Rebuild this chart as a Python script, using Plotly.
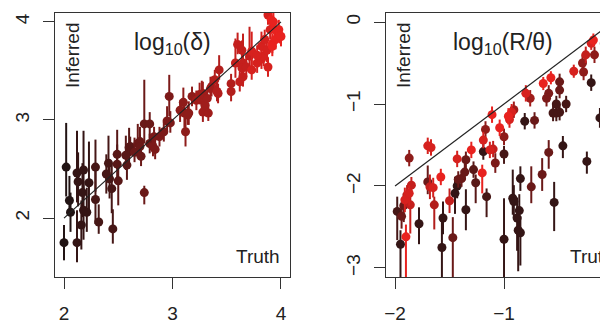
import plotly.graph_objects as go

# ---------------- Left panel: log10(delta) ----------------
left_truth = [2.02, 2.05, 2.06, 2.00, 2.12, 2.13, 2.18, 2.17, 2.12, 2.16,
              2.18, 2.21, 2.23, 2.29, 2.29, 2.32, 2.41, 2.39, 2.42, 2.44,
              2.45, 2.49, 2.49, 2.50, 2.57, 2.58, 2.60, 2.65, 2.68, 2.70,
              2.71, 2.74, 2.74, 2.79, 2.82, 2.84, 2.88, 2.92, 2.95, 2.97,
              2.98, 3.07, 3.10, 3.11, 3.15, 3.12, 3.18, 3.27, 3.28, 3.28,
              3.33, 3.35, 3.42, 3.43, 3.41, 3.39, 3.36, 3.30, 3.32, 3.54,
              3.54, 3.58, 3.65, 3.64, 3.65, 3.71, 3.73, 3.73, 3.78, 3.82,
              3.84, 3.82, 3.87, 3.88, 3.85, 3.90, 3.92, 3.95, 4.00, 3.94,
              3.91, 3.88, 3.98, 3.99, 3.25, 3.22, 3.14, 2.61, 2.79, 2.83,
              3.68, 3.62, 3.60, 3.64, 3.78, 3.92, 3.93, 2.70]
left_inferred = [2.52, 2.18, 2.06, 1.75, 2.46, 2.37, 2.49, 2.26, 1.75, 1.93,
                 2.08, 2.06, 2.36, 2.52, 2.19, 1.96, 2.56, 2.45, 2.40, 2.30,
                 1.89, 2.65, 2.55, 2.38, 2.64, 2.54, 2.72, 2.67, 2.76, 2.78,
                 2.63, 2.26, 2.96, 2.96, 2.73, 2.70, 2.83, 2.88, 2.99, 3.24,
                 2.97, 3.10, 3.18, 3.07, 3.07, 2.88, 3.24, 3.20, 3.27, 3.08,
                 3.07, 3.32, 3.27, 3.51, 3.29, 3.41, 3.34, 3.15, 3.22, 3.37,
                 3.29, 3.58, 3.58, 3.53, 3.44, 3.65, 3.70, 3.51, 3.58, 3.62,
                 3.65, 3.75, 3.71, 3.54, 3.82, 3.92, 3.78, 3.82, 3.85, 3.92,
                 4.02, 4.07, 3.92, 3.86, 3.26, 3.20, 3.05, 2.73, 2.76, 2.83,
                 3.54, 3.39, 3.77, 3.71, 3.66, 3.75, 4.00, 2.73]
left_err_up = [0.45, 0.25, 0.20, 0.18, 0.43, 0.30, 0.40, 0.30, 0.33, 0.25,
               0.30, 0.25, 0.42, 0.28, 0.30, 0.18, 0.28, 0.20, 0.20, 0.25,
               0.20, 0.25, 0.20, 0.15, 0.20, 0.15, 0.20, 0.15, 0.20, 0.15,
               0.12, 0.07, 0.45, 0.12, 0.10, 0.10, 0.10, 0.10, 0.15, 0.22,
               0.12, 0.10, 0.15, 0.15, 0.12, 0.15, 0.10, 0.20, 0.12, 0.10,
               0.10, 0.12, 0.10, 0.15, 0.10, 0.10, 0.10, 0.10, 0.10, 0.10,
               0.10, 0.25, 0.30, 0.10, 0.10, 0.30, 0.20, 0.10, 0.10, 0.12,
               0.12, 0.15, 0.12, 0.10, 0.10, 0.10, 0.10, 0.10, 0.10, 0.10,
               0.10, 0.10, 0.10, 0.08, 0.12, 0.10, 0.10, 0.10, 0.10, 0.10,
               0.10, 0.10, 0.12, 0.10, 0.10, 0.10, 0.10, 0.12]
left_err_down = [0.30, 0.15, 0.20, 0.18, 0.30, 0.25, 0.30, 0.25, 0.20, 0.25,
                 0.30, 0.20, 0.30, 0.25, 0.25, 0.12, 0.20, 0.20, 0.20, 0.25,
                 0.15, 0.15, 0.15, 0.25, 0.15, 0.15, 0.15, 0.10, 0.15, 0.15,
                 0.10, 0.12, 0.20, 0.15, 0.10, 0.10, 0.10, 0.10, 0.10, 0.20,
                 0.10, 0.12, 0.12, 0.15, 0.12, 0.15, 0.10, 0.15, 0.10, 0.10,
                 0.08, 0.10, 0.10, 0.10, 0.10, 0.10, 0.10, 0.10, 0.10, 0.10,
                 0.10, 0.15, 0.15, 0.10, 0.10, 0.15, 0.15, 0.10, 0.10, 0.10,
                 0.10, 0.10, 0.12, 0.10, 0.10, 0.10, 0.10, 0.10, 0.10, 0.10,
                 0.10, 0.10, 0.10, 0.08, 0.10, 0.10, 0.10, 0.10, 0.10, 0.10,
                 0.10, 0.10, 0.10, 0.10, 0.10, 0.10, 0.10, 0.10]

# ---------------- Right panel: log10(R/theta) ----------------
right_truth = [-1.98, -1.95, -1.94, -1.92, -1.91, -1.90, -1.89, -1.87, -1.86, -1.85,
               -1.87, -1.78, -1.70, -1.67, -1.70, -1.68, -1.65, -1.64, -1.58, -1.56,
               -1.57, -1.47, -1.50, -1.45, -1.43, -1.43, -1.42, -1.39, -1.36, -1.35,
               -1.30, -1.35, -1.28, -1.26, -1.20, -1.19, -1.16, -1.19, -1.11, -1.17,
               -1.04, -1.00, -0.96, -0.93, -0.95, -0.91, -0.81, -0.72, -0.80, -0.76,
               -0.64, -0.57, -0.59, -0.61, -0.49, -0.49, -0.52, -0.52, -0.49, -0.43,
               -0.55, -0.36, -0.27, -0.28, -0.25, -0.17, -0.20, -0.18, -0.07, -0.06,
               -0.20, -0.12, -0.08, -1.13, -1.10, -1.08, -1.00, -1.00, -0.92, -0.91,
               -0.85, -0.88, -0.86, -0.87, -0.85, -0.75, -0.65, -0.59, -0.54, -0.46,
               -0.24, -0.06]
right_inferred = [-2.31, -2.71, -2.37, -2.24, -2.17, -2.62, -2.11, -2.09, -2.23, -1.99,
                  -1.66, -2.46, -1.51, -1.53, -1.95, -2.01, -2.02, -2.23, -1.89, -2.39,
                  -2.75, -2.63, -2.18, -2.09, -2.00, -1.67, -1.92, -1.91, -1.83, -1.68,
                  -1.56, -2.29, -1.80, -1.96, -1.84, -1.58, -2.13, -1.44, -1.13, -1.31,
                  -1.29, -1.40, -1.15, -1.10, -1.19, -1.07, -1.21, -1.20, -0.87, -0.93,
                  -0.75, -0.68, -0.87, -0.93, -0.73, -0.83, -1.00, -1.11, -1.10, -1.00,
                  -1.11, -0.60, -0.61, -0.50, -0.40, -0.40, -0.26, -0.22, -0.52, -0.06,
                  -0.74, -1.17, -0.26, -1.56, -1.55, -1.72, -1.61, -2.65, -2.15, -2.19,
                  -1.91, -2.39, -2.30, -2.54, -2.57, -2.01, -1.86, -1.59, -2.20, -1.51,
                  -1.70, -1.46]
right_err_up = [0.18, 0.17, 0.15, 0.15, 0.15, 0.15, 0.12, 0.10, 0.15, 0.10,
                0.10, 0.20, 0.10, 0.10, 0.20, 0.15, 0.12, 0.10, 0.10, 0.20,
                0.40, 0.25, 0.15, 0.20, 0.10, 0.10, 0.10, 0.10, 0.10, 0.10,
                0.10, 0.25, 0.10, 0.10, 0.10, 0.10, 0.10, 0.10, 0.10, 0.10,
                0.10, 0.10, 0.10, 0.10, 0.10, 0.10, 0.10, 0.10, 0.10, 0.10,
                0.08, 0.08, 0.10, 0.10, 0.10, 0.10, 0.10, 0.10, 0.10, 0.10,
                0.10, 0.08, 0.10, 0.10, 0.10, 0.10, 0.08, 0.08, 0.10, 0.08,
                0.10, 0.12, 0.10, 0.10, 0.10, 0.12, 0.10, 0.50, 0.35, 0.20,
                0.15, 0.25, 0.20, 0.20, 0.20, 0.25, 0.20, 0.15, 0.25, 0.12,
                0.12, 0.10]
right_err_down = [0.35, 0.50, 0.15, 0.20, 0.15, 0.60, 0.12, 0.15, 0.35, 0.10,
                  0.10, 0.25, 0.10, 0.10, 0.15, 0.15, 0.12, 0.30, 0.10, 0.20,
                  0.50, 0.60, 0.15, 0.25, 0.15, 0.10, 0.10, 0.10, 0.10, 0.10,
                  0.10, 0.25, 0.10, 0.25, 0.25, 0.10, 0.25, 0.10, 0.10, 0.10,
                  0.10, 0.10, 0.10, 0.10, 0.10, 0.10, 0.10, 0.10, 0.10, 0.10,
                  0.08, 0.08, 0.10, 0.10, 0.10, 0.10, 0.10, 0.10, 0.10, 0.10,
                  0.10, 0.08, 0.10, 0.10, 0.10, 0.10, 0.08, 0.08, 0.10, 0.08,
                  0.10, 0.12, 0.10, 0.10, 0.10, 0.12, 0.12, 0.60, 0.20, 0.20,
                  0.15, 0.40, 0.30, 0.50, 0.40, 0.20, 0.20, 0.20, 0.35, 0.15,
                  0.15, 0.10]
# colour variable (0 = dark, 1 = bright red) for the right panel points
right_shade = [0.20, 0.05, 0.40, 0.35, 0.90, 1.00, 0.85, 0.90, 0.85, 0.85,
               0.55, 0.05, 0.95, 0.90, 0.40, 0.85, 0.90, 0.70, 1.00, 0.05,
               0.05, 0.35, 0.80, 0.05, 0.10, 0.95, 0.40, 0.35, 0.35, 0.40,
               1.00, 0.05, 0.30, 0.25, 1.00, 0.05, 0.15, 0.95, 1.00, 0.50,
               1.00, 0.55, 1.00, 0.95, 0.90, 0.60, 0.05, 0.40, 0.90, 0.65,
               1.00, 1.00, 0.45, 0.45, 0.35, 0.40, 0.20, 0.15, 0.20, 0.20,
               0.20, 0.95, 0.50, 0.50, 0.85, 0.55, 0.95, 1.00, 0.05, 1.00,
               0.05, 0.05, 0.60, 0.90, 0.85, 0.45, 0.15, 0.05, 0.10, 0.10,
               0.05, 0.05, 0.05, 0.05, 0.05, 0.40, 0.35, 0.35, 0.05, 0.10,
               0.05, 0.90]

left_ticks = [2, 3, 4]
right_xticks = [-2, -1, 0]
right_yticks = [-3, -2, -1, 0]

# The page body keeps an 8px default margin, so the figure is 8px smaller
# and every window-pixel position below is shifted by that offset.
OFF = 8
W, H = 608 - OFF, 321 - OFF
DARK = (34, 20, 20)
RED = (232, 34, 31)
NBINS = 12
FONT = "Liberation Sans, Arial, sans-serif"


def fx(p):
    return (p - OFF) / W


def fy(p):
    return 1 - (p - OFF) / H


def shade_color(c):
    c = max(0.0, min(1.0, c))
    r, g, b = (round(DARK[i] + (RED[i] - DARK[i]) * c) for i in range(3))
    return f"rgb({r},{g},{b})"


def add_points(fig, xs, ys, up, down, shades, xa, ya):
    bins = {}
    for i, c in enumerate(shades):
        k = round(max(0.0, min(1.0, c)) * (NBINS - 1))
        bins.setdefault(k, []).append(i)
    for k in sorted(bins):
        idx = bins[k]
        col = shade_color(k / (NBINS - 1))
        fig.add_trace(go.Scatter(
            x=[xs[i] for i in idx], y=[ys[i] for i in idx],
            mode="markers", xaxis=xa, yaxis=ya, showlegend=False,
            marker=dict(size=9, color=col, line=dict(width=0)),
            error_y=dict(type="data", symmetric=False,
                         array=[up[i] for i in idx],
                         arrayminus=[down[i] for i in idx],
                         color=col, thickness=2, width=0),
            hoverinfo="skip"))


fig = go.Figure()

left_shade = [(t - 2.0) / 2.0 for t in left_truth]  # colour follows the true log10(delta)
add_points(fig, left_truth, left_inferred, left_err_up, left_err_down, left_shade, "x", "y")
fig.add_trace(go.Scatter(x=[2, 4], y=[2, 4], mode="lines", xaxis="x", yaxis="y",
                         line=dict(color="#222222", width=1.2), showlegend=False,
                         hoverinfo="skip"))

add_points(fig, right_truth, right_inferred, right_err_up, right_err_down, right_shade, "x2", "y2")
fig.add_trace(go.Scatter(x=[-2, 0], y=[-2, 0], mode="lines", xaxis="x2", yaxis="y2",
                         line=dict(color="#222222", width=1.2), showlegend=False,
                         hoverinfo="skip"))

ydom = [fy(277), fy(13)]
axis_common = dict(showgrid=False, zeroline=False, showline=True, linecolor="#333333",
                   linewidth=1, ticks="outside", ticklen=11, tickwidth=1,
                   tickcolor="#333333", tickfont=dict(family=FONT, size=19, color="#222222"),
                   automargin=False)

fig.update_layout(
    width=W, height=H, margin=dict(l=0, r=0, t=0, b=0),
    paper_bgcolor="white", plot_bgcolor="white", template="none",
    font=dict(family=FONT, color="#222222"),
    xaxis=dict(domain=[fx(55), fx(290)], range=[1.917, 4.083], tickvals=left_ticks,
               mirror=True, anchor="y", ticklabelstandoff=8, **axis_common),
    yaxis=dict(domain=ydom, range=[1.40, 4.09], tickvals=left_ticks, tickangle=-90,
               mirror=True, anchor="x", ticklabelstandoff=6, **axis_common),
    xaxis2=dict(domain=[fx(386), 1.0], range=[-2.083, -0.046], tickvals=right_xticks,
                mirror=True, anchor="y2", ticklabelstandoff=8, **axis_common),
    yaxis2=dict(domain=ydom, range=[-3.11, 0.11], tickvals=right_yticks, tickangle=-90,
                mirror=False, anchor="x2", ticklabelstandoff=6, **axis_common),
)

ann_font = dict(family=FONT, size=19, color="#222222")
title_font = dict(family=FONT, size=23, color="#222222")
fig.add_annotation(text="Inferred", xref="paper", yref="paper", x=fx(72), y=fy(56),
                   textangle=-90, showarrow=False, font=ann_font, xanchor="center", yanchor="middle")
fig.add_annotation(text="log<sub>10</sub>(δ)", xref="paper", yref="paper", x=fx(172), y=fy(44),
                   showarrow=False, font=title_font, xanchor="center", yanchor="middle")
fig.add_annotation(text="Truth", xref="paper", yref="paper", x=fx(282), y=fy(269),
                   showarrow=False, font=ann_font, xanchor="right", yanchor="bottom")
fig.add_annotation(text="Inferred", xref="paper", yref="paper", x=fx(403), y=fy(56),
                   textangle=-90, showarrow=False, font=ann_font, xanchor="center", yanchor="middle")
fig.add_annotation(text="log<sub>10</sub>(R/θ)", xref="paper", yref="paper", x=fx(503), y=fy(44),
                   showarrow=False, font=title_font, xanchor="center", yanchor="middle")
fig.add_annotation(text="Truth", xref="paper", yref="paper", x=fx(568), y=fy(269),
                   showarrow=False, font=ann_font, xanchor="left", yanchor="bottom")

fig.write_html("out.html")
